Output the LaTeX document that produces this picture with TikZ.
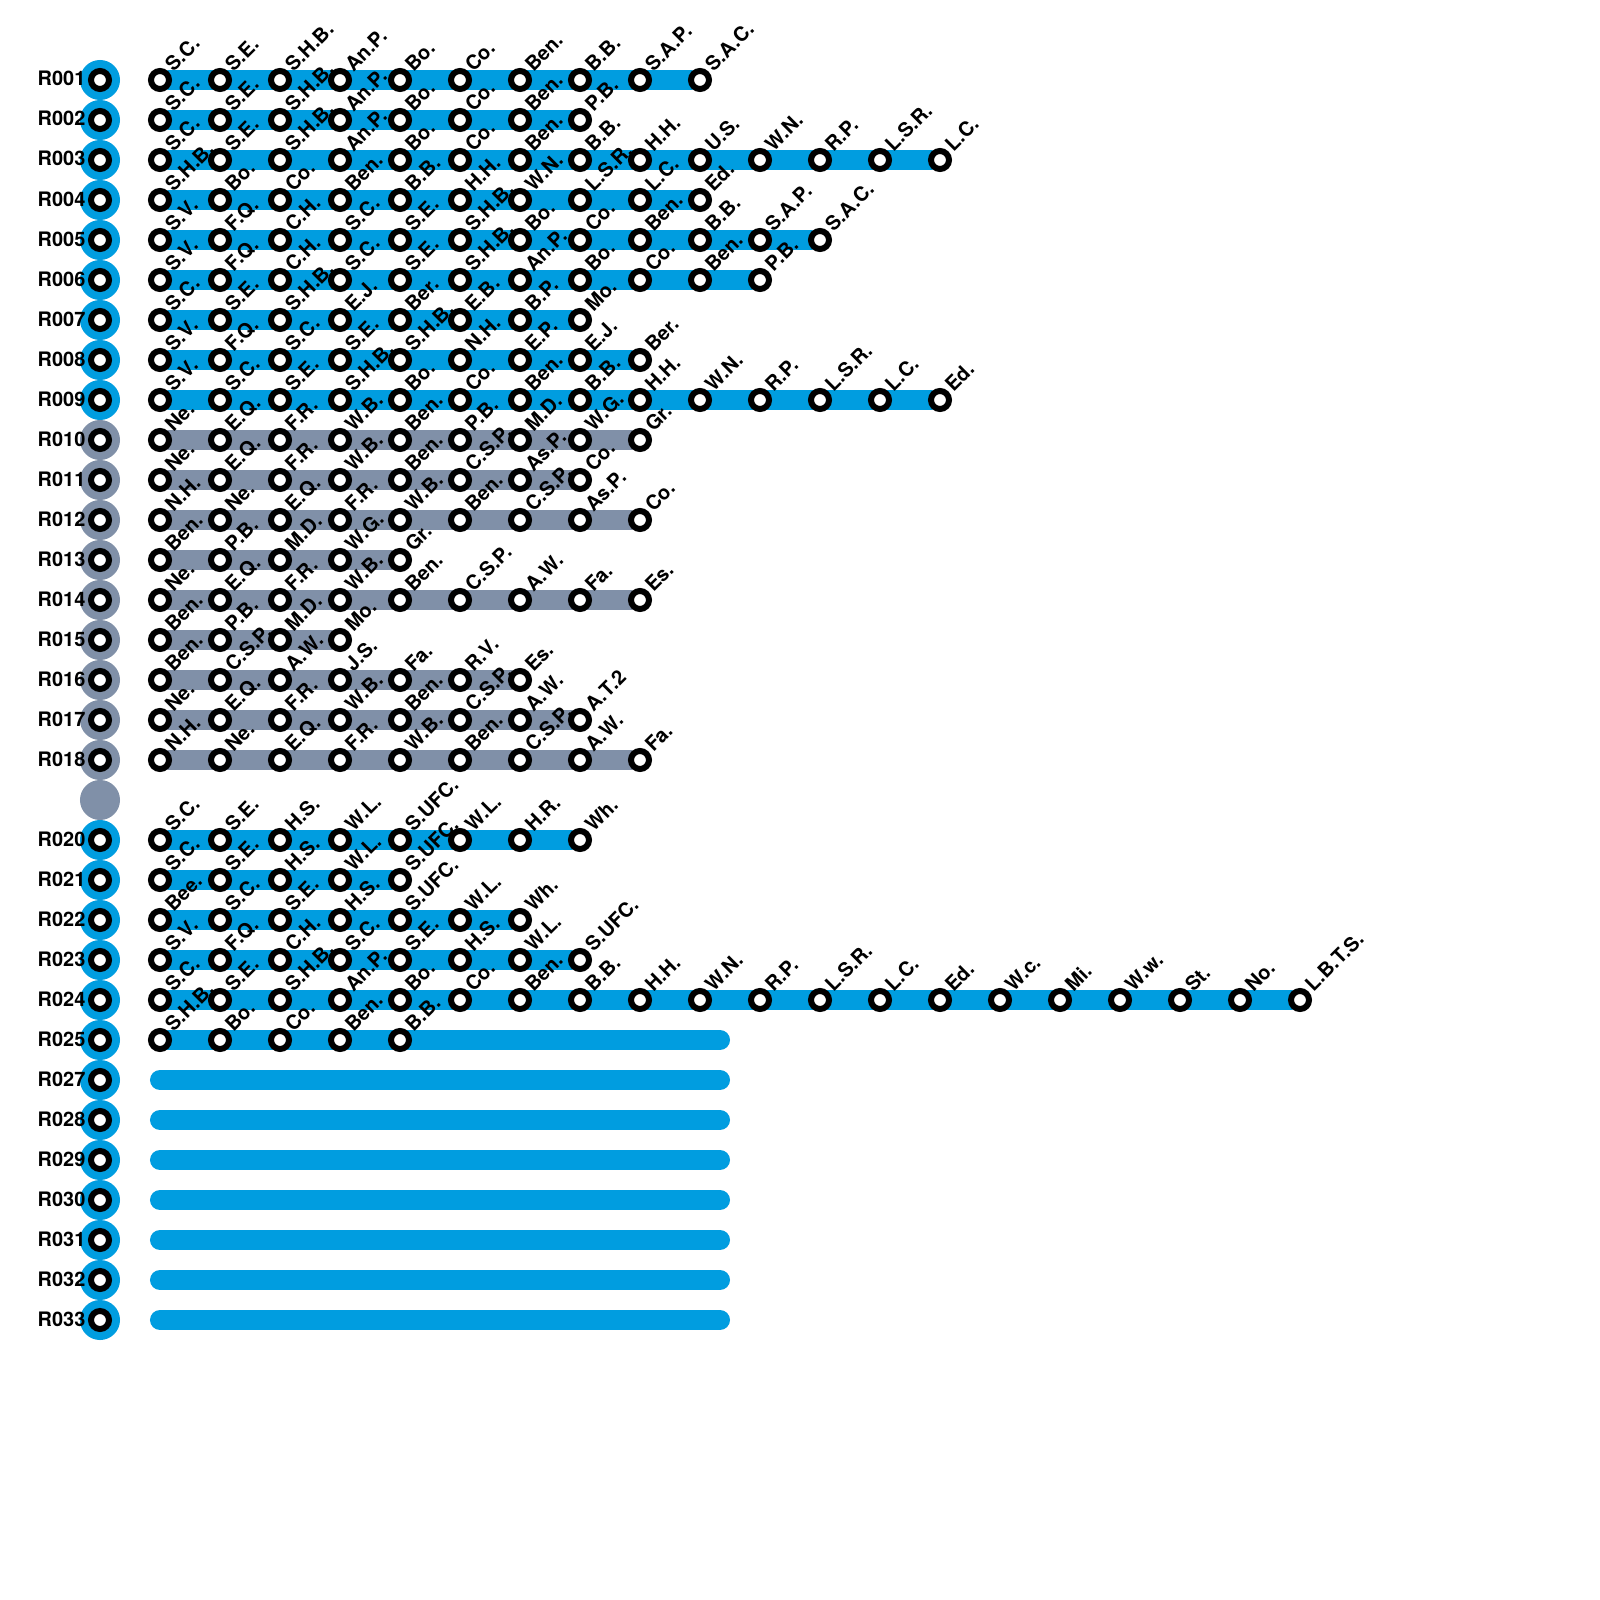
\documentclass[tikz,border=0pt]{standalone}
\usepackage{fontspec}
\setmainfont{TeX Gyre Heros}
\definecolor{routeblue}{HTML}{009DE0}
\definecolor{routegrey}{HTML}{8090A8}
\pgfdeclarelayer{bars}
\pgfdeclarelayer{stations}
\pgfsetlayers{bars,main,stations}
\tikzset{
 routedisc/.style={circle,inner sep=0pt,outer sep=0pt,minimum size=4mm},
 stopring/.style={draw=black,fill=white,circle,line width=.6mm,inner sep=0pt,outer sep=0pt,minimum size=1.8mm},
 routebar/.style={line width=2mm,line cap=round},
 routename/.style={anchor=base west,inner sep=0pt,font=\bfseries\fontsize{5.67}{6}\selectfont},
 stopname/.style={anchor=base west,inner sep=0pt,rotate=45,font=\bfseries\fontsize{5.67}{6}\selectfont}
}
\newcommand{\routedata}{%
80/routeblue/R001/{S.C.,S.E.,S.H.B.,An.P.,Bo.,Co.,Ben.,B.B.,S.A.P.,S.A.C.},
120/routeblue/R002/{S.C.,S.E.,S.H.B.,An.P.,Bo.,Co.,Ben.,P.B.},
160/routeblue/R003/{S.C.,S.E.,S.H.B.,An.P.,Bo.,Co.,Ben.,B.B.,H.H.,U.S.,W.N.,R.P.,L.S.R.,L.C.},
200/routeblue/R004/{S.H.B.,Bo.,Co.,Ben.,B.B.,H.H.,W.N.,L.S.R.,L.C.,Ed.},
240/routeblue/R005/{S.V.,F.Q.,C.H.,S.C.,S.E.,S.H.B.,Bo.,Co.,Ben.,B.B.,S.A.P.,S.A.C.},
280/routeblue/R006/{S.V.,F.Q.,C.H.,S.C.,S.E.,S.H.B.,An.P.,Bo.,Co.,Ben.,P.B.},
320/routeblue/R007/{S.C.,S.E.,S.H.B.,E.J.,Ber.,E.B.,B.P.,Mo.},
360/routeblue/R008/{S.V.,F.Q.,S.C.,S.E.,S.H.B.,N.H.,E.P.,E.J.,Ber.},
400/routeblue/R009/{S.V.,S.C.,S.E.,S.H.B.,Bo.,Co.,Ben.,B.B.,H.H.,W.N.,R.P.,L.S.R.,L.C.,Ed.},
440/routegrey/R010/{Ne.,E.Q.,F.R.,W.B.,Ben.,P.B.,M.D.,W.G.,Gr.},
480/routegrey/R011/{Ne.,E.Q.,F.R.,W.B.,Ben.,C.S.P.,As.P.,Co.},
520/routegrey/R012/{N.H.,Ne.,E.Q.,F.R.,W.B.,Ben.,C.S.P.,As.P.,Co.},
560/routegrey/R013/{Ben.,P.B.,M.D.,W.G.,Gr.},
600/routegrey/R014/{Ne.,E.Q.,F.R.,W.B.,Ben.,C.S.P.,A.W.,Fa.,Es.},
640/routegrey/R015/{Ben.,P.B.,M.D.,Mo.},
680/routegrey/R016/{Ben.,C.S.P.,A.W.,J.S.,Fa.,R.V.,Es.},
720/routegrey/R017/{Ne.,E.Q.,F.R.,W.B.,Ben.,C.S.P.,A.W.,A.T.2},
760/routegrey/R018/{N.H.,Ne.,E.Q.,F.R.,W.B.,Ben.,C.S.P.,A.W.,Fa.},
840/routeblue/R020/{S.C.,S.E.,H.S.,W.L.,S.UFC.,W.L.,H.R.,Wh.},
880/routeblue/R021/{S.C.,S.E.,H.S.,W.L.,S.UFC.},
920/routeblue/R022/{Bee.,S.C.,S.E.,H.S.,S.UFC.,W.L.,Wh.},
960/routeblue/R023/{S.V.,F.Q.,C.H.,S.C.,S.E.,H.S.,W.L.,S.UFC.},
1000/routeblue/R024/{S.C.,S.E.,S.H.B.,An.P.,Bo.,Co.,Ben.,B.B.,H.H.,W.N.,R.P.,L.S.R.,L.C.,Ed.,W.c.,Mi.,W.w.,St.,No.,L.B.T.S.},
1040/routeblue/R025/{S.H.B.,Bo.,Co.,Ben.,B.B.}}
\newcommand{\barerows}{1080/R027,1120/R028,1160/R029,1200/R030,1240/R031,1280/R032,1320/R033}
\begin{document}
\begin{tikzpicture}[x=.01cm,y=-.01cm]
\useasboundingbox (0,0) rectangle (1600,1600);
% rings on top, with the discs and names under them
\begin{pgfonlayer}{stations}
\foreach \rowy/\rowcol/\rowname/\rowstops in \routedata{
 \node[stopring] (\rowname-ring) at(100,\rowy){};
 \foreach \stoptext [count=\i] in \rowstops{
  \node[stopring] (\rowname-\i) at(100+60*\i,\rowy){};
 }
}
\foreach \rowy/\rowname in \barerows{
 \node[stopring] (\rowname-ring) at(100,\rowy){};
}
\end{pgfonlayer}
\foreach \rowy/\rowcol/\rowname/\rowstops in \routedata{
 \node[routedisc,fill=\rowcol] (\rowname) at(100,\rowy){};
 \node[routename] (\rowname-name) at(37,\rowy+6){\rowname};
 \foreach \stoptext [count=\i] in \rowstops{
  \node[stopname] (\rowname-\i-name) at(113+60*\i,\rowy-7){\stoptext};
 }
}
\node[routedisc,fill=routegrey] (R019) at(100,800){};
\foreach \rowy/\rowname in \barerows{
 \node[routedisc,fill=routeblue] (\rowname) at(100,\rowy){};
 \node[routename] (\rowname-name) at(37,\rowy+6){\rowname};
}
% bars go last in the code, first in the stack
\begin{pgfonlayer}{bars}
\foreach \rowy/\rowcol/\rowname/\rowstops in \routedata{
 \foreach \stoptext [count=\i] in \rowstops{\xdef\laststop{\i}}
 \draw[routebar,draw=\rowcol] (\rowname-1) -- (\rowname-\laststop);
}
\coordinate (R025-end) at(720,1040);
\draw[routebar,draw=routeblue] (R025-1) -- (R025-end);
\foreach \rowy/\rowname in \barerows{
 \coordinate (\rowname-start) at(160,\rowy);
 \coordinate (\rowname-end) at(720,\rowy);
 \draw[routebar,draw=routeblue] (\rowname-start) -- (\rowname-end);
}
\end{pgfonlayer}
\end{tikzpicture}
\end{document}
